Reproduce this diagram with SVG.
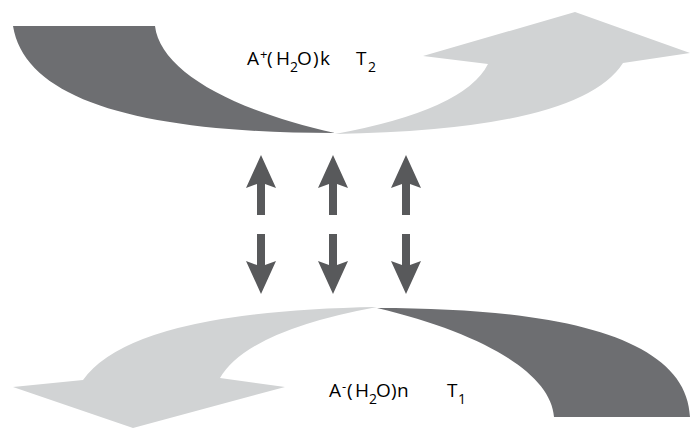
<svg xmlns="http://www.w3.org/2000/svg" width="690" height="429" viewBox="0 0 690 429">
<defs>
<style>
.dark{fill:#6d6e71}
.light{fill:#d1d3d4}
.arr{fill:#58595b}
.lbl{font-family:"Open Sans","Liberation Sans",Arial,sans-serif;font-size:19px;fill:#000}
.sub{font-size:14px}
.sup{font-size:13px}
</style>
<path id="up" d="M0,155 L15,188 L4,184 L4,215 L-4,215 L-4,184 L-15,188 Z"/>
<path id="down" d="M0,294 L15,261 L4,265 L4,234 L-4,234 L-4,265 L-15,261 Z"/>
</defs>
<rect width="690" height="429" fill="#fff"/>
<g id="top-dark"><path class="dark" d="M13,26 L155,26 C160,70 230,110 335,133 C140,133 25,100 13,26 Z"/></g>
<g id="top-light"><path class="light" d="M335,134 Q580,130 623,63 L690,53 L575,12 L423,56 L488,64 Q465,110 335,134 Z"/></g>
<g id="bottom-light"><path class="light" d="M377,307 Q132,311 83,380 L13,387 L133,428 L285,387 L220,378 Q247,331 377,307 Z"/></g>
<g id="bottom-dark"><path class="dark" d="M377,308 C572,308 687,341 690,417 L554,417 C551,373 482,333 377,308 Z"/></g>
<g id="connectors" class="arr">
<use href="#up" x="261"/><use href="#up" x="333"/><use href="#up" x="406"/>
<use href="#down" x="261"/><use href="#down" x="333"/><use href="#down" x="406"/>
</g>
<g id="label-top" class="lbl">
<text x="247" y="65">A</text>
<text class="sup" x="260" y="59">+</text>
<text x="267" y="65">(</text>
<text x="276" y="65">H</text>
<text class="sub" x="290" y="72">2</text>
<text x="297" y="65">O</text>
<text x="313" y="65">)</text>
<text x="320" y="65">k</text>
<text x="356" y="65">T</text>
<text class="sub" x="368" y="72">2</text>
</g>
<g id="label-bottom" class="lbl">
<text x="329" y="397">A</text>
<text class="sup" x="342" y="391">-</text>
<text x="347" y="397">(</text>
<text x="355" y="397">H</text>
<text class="sub" x="369" y="404">2</text>
<text x="376" y="397">O</text>
<text x="391" y="397">)</text>
<text x="397" y="397">n</text>
<text x="447" y="397">T</text>
<text class="sub" x="458" y="404">1</text>
</g>
</svg>
